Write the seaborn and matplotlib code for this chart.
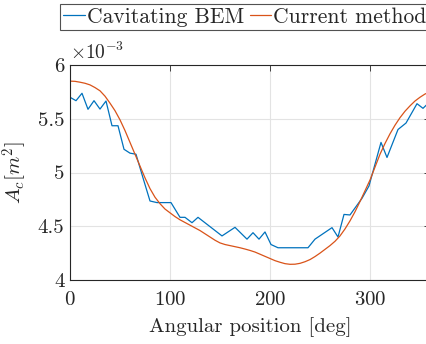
import numpy as np
import pandas as pd
import matplotlib
matplotlib.use("Agg")
import matplotlib.pyplot as plt
from matplotlib.ticker import FuncFormatter, FixedLocator
from matplotlib.lines import Line2D
import seaborn as sns

# ---- data ----
bem_angle = [0, 6, 12, 18, 24, 30, 36, 42, 48, 54, 60, 66, 73, 80, 87, 94, 101,
             110, 115, 122, 128, 152, 165, 177, 183, 189, 195, 201, 208, 238,
             245, 262, 268, 274, 280, 292, 299, 311, 317, 328, 336, 347, 353, 360]
bem_value = [5.70, 5.668, 5.737, 5.588, 5.668, 5.59, 5.665, 5.435, 5.435, 5.216,
             5.18, 5.17, 4.95, 4.735, 4.72, 4.72, 4.72,
             4.583, 4.583, 4.533, 4.583, 4.41, 4.49, 4.38, 4.44, 4.38, 4.447,
             4.33, 4.30, 4.30,
             4.38, 4.487, 4.40, 4.61, 4.605, 4.76, 4.875, 5.28, 5.14, 5.40,
             5.46, 5.64, 5.597, 5.66]

cur_angle = list(range(0, 361, 5))
cur_value = [5.85, 5.848, 5.84, 5.83, 5.815, 5.79, 5.76, 5.71, 5.645, 5.575,
             5.49, 5.39, 5.28, 5.17, 5.06, 4.95, 4.85, 4.77, 4.71, 4.66,
             4.625, 4.59, 4.56, 4.535, 4.51, 4.485, 4.46, 4.43, 4.40, 4.37,
             4.345, 4.33, 4.32, 4.31, 4.30, 4.288, 4.275, 4.26, 4.24, 4.22,
             4.20, 4.18, 4.165, 4.152, 4.146, 4.147, 4.155, 4.17, 4.19, 4.218,
             4.25, 4.285, 4.32, 4.36, 4.41, 4.475, 4.55, 4.635, 4.73, 4.83,
             4.93, 5.05, 5.17, 5.27, 5.36, 5.44, 5.51, 5.57, 5.62, 5.665,
             5.70, 5.73, 5.75]

series_names = ["Cavitating BEM", "Current method"]
x_ticks = [0, 100, 200, 300]
y_ticks = [4.0, 4.5, 5.0, 5.5, 6.0]
scale = 1e-3

df = pd.concat([
    pd.DataFrame({"angle": bem_angle, "Ac": np.array(bem_value) * scale,
                  "series": series_names[0]}),
    pd.DataFrame({"angle": cur_angle, "Ac": np.array(cur_value) * scale,
                  "series": series_names[1]}),
])

sns.set_style("white")
plt.rcParams["font.family"] = "serif"
plt.rcParams["font.serif"] = ["cmr10", "DejaVu Serif"]
plt.rcParams["mathtext.fontset"] = "cm"
plt.rcParams["axes.unicode_minus"] = False
plt.rcParams["axes.formatter.use_mathtext"] = True

fig = plt.figure(figsize=(4.27, 3.44), dpi=100)
ax = fig.add_axes([70 / 427, (344 - 280) / 344, 360 / 427, 215 / 344])

palette = {series_names[0]: "#0072BD", series_names[1]: "#D95319"}
sns.lineplot(data=df, x="angle", y="Ac", hue="series", palette=palette,
             linewidth=0.9, ax=ax, legend=False, sort=False)

ax.set_xlim(0, 360)
ax.set_ylim(4.0 * scale, 6.0 * scale)
ax.xaxis.set_major_locator(FixedLocator(x_ticks))
ax.yaxis.set_major_locator(FixedLocator([v * scale for v in y_ticks]))
ax.yaxis.set_major_formatter(FuncFormatter(lambda v, p: "%g" % round(v / scale, 3)))
ax.grid(True, color="#e3e3e3", linewidth=0.8)
ax.set_axisbelow(True)
for s in ax.spines.values():
    s.set_color("#262626")
    s.set_linewidth(0.8)
ax.tick_params(direction="in", length=4, width=0.6, colors="#262626",
               labelsize=15, top=True, right=True, pad=4)
ax.tick_params(axis="x", pad=8)
for lab in ax.get_xticklabels() + ax.get_yticklabels():
    lab.set_color("#262626")

ax.set_xlabel("Angular position [deg]", fontsize=15, color="#262626", labelpad=6)
ax.set_ylabel(r"$A_c[m^2]$", fontsize=15, color="#262626", labelpad=6)
ax.text(0.0, 1.01, r"$\times10^{-3}$", transform=ax.transAxes, fontsize=14,
        color="#262626", ha="left", va="bottom")

handles = [Line2D([], [], color=palette[n], lw=0.9) for n in series_names]
leg = fig.legend(handles, series_names, loc="upper left", ncol=2,
                 bbox_to_anchor=(60 / 427, 1 - 4 / 344), fontsize=15.5,
                 frameon=True, fancybox=False, handlelength=1.0,
                 handletextpad=0.1, columnspacing=0.25, borderpad=0.15,
                 borderaxespad=0.0)
leg.get_frame().set_edgecolor("#262626")
leg.get_frame().set_linewidth(0.8)
for t in leg.get_texts():
    t.set_color("#262626")

fig.savefig("out.png", dpi=100)
